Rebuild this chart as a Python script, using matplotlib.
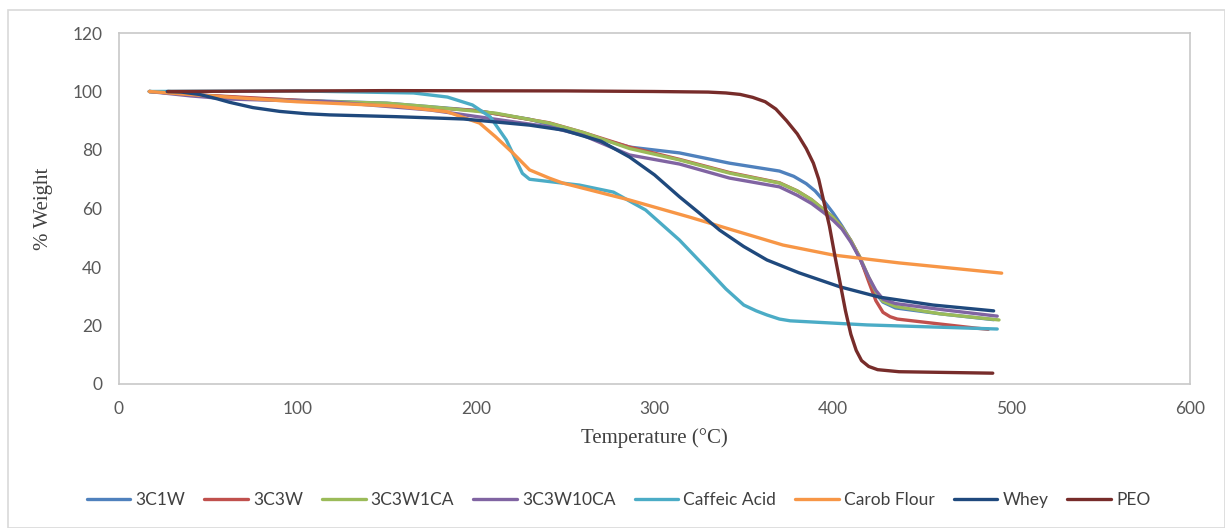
import matplotlib
matplotlib.use('Agg')
import matplotlib.pyplot as plt
from matplotlib.patches import Rectangle

# TGA curves (temperature in °C, % weight)
t_3c1w = [17, 40, 70, 100, 150, 200, 230, 260, 286, 314, 342, 370, 378, 385, 390, 395, 400, 405, 410, 415, 420, 424, 428, 435, 460, 490]
w_3c1w = [100, 99, 97.8, 97, 96, 93.5, 90.5, 85.5, 81, 79, 75.5, 72.8, 71, 68.5, 66, 62.5, 58.5, 54, 49, 43, 36, 31, 28, 26, 24, 22]

t_3c3w = [17, 40, 70, 100, 150, 200, 241, 260, 286, 314, 342, 370, 380, 388, 395, 400, 405, 410, 415, 420, 424, 428, 432, 436, 460, 480, 487]
w_3c3w = [100, 99, 98, 97, 95.5, 93.5, 89.3, 86, 81, 76.8, 72.3, 68.8, 66, 63, 59.5, 57, 53.5, 49, 43.4, 35, 28.5, 24.5, 23, 22.2, 20.5, 19.1, 18.7]

t_3c3w1ca = [17, 40, 70, 100, 150, 174, 211, 241, 260, 286, 314, 342, 370, 380, 388, 395, 400, 405, 410, 415, 420, 424, 428, 435, 460, 493]
w_3c3w1ca = [100, 99, 97.5, 96.8, 96, 94.8, 92.6, 89.2, 86, 80.5, 76.6, 72.1, 68.7, 66, 63, 59.5, 57, 53.5, 49, 43.4, 36.5, 31.5, 28.3, 26.5, 24, 21.9]

t_3c3w10ca = [17, 40, 62, 118, 174, 202, 241, 260, 286, 314, 342, 370, 380, 388, 395, 400, 405, 410, 415, 420, 424, 428, 435, 460, 492]
w_3c3w10ca = [100, 98.5, 97.4, 96.5, 93.7, 91.3, 87.9, 85, 78.3, 75.2, 70.4, 67.4, 64.5, 61.7, 58.5, 56, 53, 48.5, 43, 36.5, 32, 29, 27.5, 25.5, 23.2]

t_caffeic = [17, 100, 165, 184, 198, 208, 217, 226, 230, 258, 277, 295, 314, 330, 340, 350, 357, 363, 370, 376, 419, 492]
w_caffeic = [100, 100.2, 99.5, 98.1, 95.4, 91.3, 83.4, 72, 70, 68, 65.6, 59.5, 49.2, 39, 32.5, 27, 25, 23.6, 22.2, 21.6, 20.2, 18.8]

t_carob = [17, 43.5, 99.5, 155.5, 183.6, 202, 211, 220.6, 230, 241, 248.6, 286, 320, 344, 372, 400, 437, 494.5]
w_carob = [100, 98.8, 96.5, 95, 93.1, 89.2, 84.5, 79, 73.2, 70.4, 68.7, 62.9, 57, 52.6, 47.5, 44.1, 41.4, 37.9]

t_whey = [27, 35, 45, 55, 62, 75, 90, 105, 118, 155, 193, 230, 249, 270, 286, 300, 314, 325, 336.5, 350, 363, 381, 404, 426, 456, 490]
w_whey = [100, 99.8, 99, 97.5, 96.3, 94.5, 93.2, 92.4, 92, 91.4, 90.6, 88.5, 86.8, 83, 77.6, 71.5, 64, 58.5, 52.6, 47, 42.4, 38, 33.2, 29.7, 27, 25]

t_peo = [27.5, 150, 250, 300, 330, 340, 348, 355, 362, 368, 374, 380, 385, 389, 392, 395, 398, 401, 404, 407, 410, 413, 416, 420, 425, 437, 489.5]
w_peo = [100, 100.3, 100.2, 100, 99.8, 99.5, 99, 98, 96.5, 94, 90, 85.5, 80.5, 75.5, 70, 62, 54, 44, 34.5, 25, 17, 11.5, 8, 6, 4.9, 4.2, 3.7]

series = [
    ('3C1W', t_3c1w, w_3c1w, '#4F81BD'),
    ('3C3W', t_3c3w, w_3c3w, '#C0504D'),
    ('3C3W1CA', t_3c3w1ca, w_3c3w1ca, '#9BBB59'),
    ('3C3W10CA', t_3c3w10ca, w_3c3w10ca, '#8064A2'),
    ('Caffeic Acid', t_caffeic, w_caffeic, '#4BACC6'),
    ('Carob Flour', t_carob, w_carob, '#F79646'),
    ('Whey', t_whey, w_whey, '#1F497D'),
    ('PEO', t_peo, w_peo, '#772C2A'),
]

fig = plt.figure(figsize=(12.25, 5.28), dpi=100)
ax = fig.add_axes([119 / 1225, 1 - 384 / 528, (1190 - 119) / 1225, (384 - 33) / 528])

for name, t, w, c in series:
    ax.plot(t, w, color=c, lw=2.4, label=name, solid_capstyle='round', solid_joinstyle='round')

ax.set_xlim(0, 600)
ax.set_ylim(0, 120)
ax.set_xticks(range(0, 601, 100))
ax.set_yticks(range(0, 121, 20))
ax.tick_params(length=0, labelsize=12.5, labelcolor='#595959', pad=12)
for lab in ax.get_xticklabels() + ax.get_yticklabels():
    lab.set_family('Lato')
for s in ax.spines.values():
    s.set_color('#c8c8c8')
    s.set_linewidth(1.2)

ax.set_xlabel('Temperature (°C)', family='Liberation Serif', fontsize=15, color='#404040', labelpad=8)
ax.set_ylabel('% Weight', family='Liberation Serif', fontsize=15, color='#404040', labelpad=14)

fig.legend(loc='center', bbox_to_anchor=(0.505, 1 - 500 / 528), ncol=8, frameon=False,
           handlelength=2.5, handletextpad=0.3, columnspacing=1.1,
           prop={'family': 'Lato', 'size': 12.5}, labelcolor='#404040')

fig.patches.append(Rectangle((8 / 1225, 0), 1 - 8 / 1225, 1 - 10 / 528, transform=fig.transFigure,
                             fill=False, edgecolor='#d9d9d9', lw=1.2))

fig.savefig('out.png', dpi=100)
